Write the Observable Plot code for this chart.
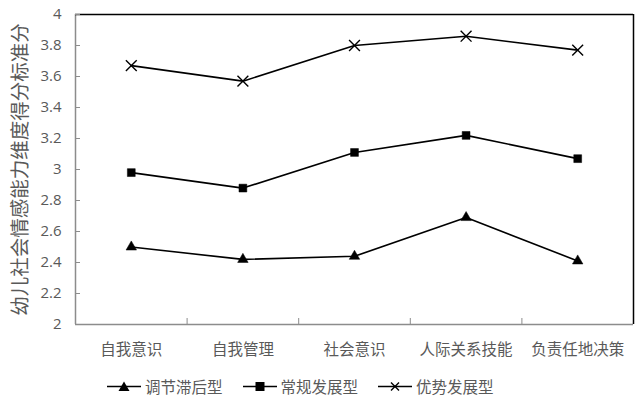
<!DOCTYPE html>
<html>
<head>
<meta charset="utf-8">
<script src="https://cdn.jsdelivr.net/npm/d3@7"></script>
<script src="https://cdn.jsdelivr.net/npm/@observablehq/plot@0.6"></script>
<style>
  html, body { margin: 0; padding: 0; background: #fff; }
  #chart { width: 636px; height: 399px; position: relative; font-family: "Noto Sans CJK SC", sans-serif; }
  .legend { position: absolute; left: 107px; top: 375px; display: flex; align-items: center; color: #595959; font-size: 15.5px; font-family: "Noto Sans CJK SC", sans-serif; }
  .legend .item { display: flex; align-items: center; margin-right: 20px; }
  .legend svg { margin-right: 4px; }
</style>
</head>
<body>
<div id="chart"></div>
<script>
const categories = ["自我意识", "自我管理", "社会意识", "人际关系技能", "负责任地决策"];
const seriesNames = ["调节滞后型", "常规发展型", "优势发展型"];
const lagging = [2.50, 2.42, 2.44, 2.69, 2.41];
const regular = [2.98, 2.88, 3.11, 3.22, 3.07];
const advantage = [3.67, 3.57, 3.80, 3.86, 3.77];
const yTicks = [2, 2.2, 2.4, 2.6, 2.8, 3, 3.2, 3.4, 3.6, 3.8, 4];
const yTitle = "幼儿社会情感能力维度得分标准分";

const seriesValues = [lagging, regular, advantage];
const symbols = ["triangle2", "square2", "times"];
const data = [];
seriesNames.forEach((s, si) => {
  categories.forEach((c, ci) => {
    data.push({series: s, idx: ci + 0.5, value: seriesValues[si][ci], cat: c});
  });
});

const gray = "#595959";
const plot = Plot.plot({
  width: 636,
  height: 368,
  marginLeft: 75,
  marginRight: 3,
  marginTop: 14,
  marginBottom: 44,
  style: {fontFamily: "'Noto Sans CJK SC', sans-serif", color: gray, background: "#fff", overflow: "visible"},
  x: {type: "linear", domain: [0, categories.length], axis: null},
  y: {domain: [2, 4], axis: null},
  marks: [
    Plot.ruleY([2], {stroke: "#8c8c8c", strokeWidth: 1.5}),
    Plot.ruleX([0], {stroke: "#8c8c8c", strokeWidth: 1.5}),
    Plot.ruleY([4], {stroke: "#000", strokeWidth: 1.5}),
    Plot.ruleX([categories.length], {stroke: "#000", strokeWidth: 1.5}),
    Plot.axisY({
      ticks: yTicks,
      tickSize: -5,
      tickPadding: 19,
      stroke: "#8c8c8c",
      tickFormat: d => String(d),
      fontSize: 15,
      fontFamily: "'Open Sans', sans-serif",
      fill: gray,
      label: null
    }),
    Plot.axisX({
      ticks: d3.range(1, categories.length),
      tickSize: -6,
      stroke: "#8c8c8c",
      tickFormat: () => "",
      label: null
    }),
    Plot.axisX({
      ticks: categories.map((c, i) => i + 0.5),
      tickSize: 0,
      tickPadding: 19,
      tickFormat: d => categories[Math.floor(d)],
      fontSize: 15.5,
      fill: gray,
      label: null
    }),
    Plot.text([yTitle], {
      frameAnchor: "left",
      dx: -55,
      rotate: -90,
      textAnchor: "middle",
      fontSize: 19.5,
      fill: gray,
      text: d => d
    }),
    Plot.line(data, {x: "idx", y: "value", z: "series", stroke: "#000", strokeWidth: 1.6}),
    ...seriesNames.map((s, si) => Plot.dot(data.filter(d => d.series === s), {
      x: "idx", y: "value",
      symbol: () => symbols[si],
      r: 5,
      fill: si === 2 ? "none" : "#000",
      stroke: "#000",
      strokeWidth: si === 2 ? 1.4 : 0.5
    }))
  ]
});
const chart = document.getElementById("chart");
chart.appendChild(plot);

// legend
const legend = document.createElement("div");
legend.className = "legend";
const legendSymbols = [
  '<path d="M17 2.5 L22.5 12 L11.5 12 Z" fill="#000"/>',
  '<rect x="12.5" y="3" width="9" height="9" fill="#000"/>',
  '<path d="M13 3.5 L21 11.5 M21 3.5 L13 11.5" stroke="#000" stroke-width="1.4"/>'
];
seriesNames.forEach((s, i) => {
  const item = document.createElement("div");
  item.className = "item";
  item.innerHTML = `<svg width="34" height="15" viewBox="0 0 34 15"><line x1="0" x2="34" y1="7.5" y2="7.5" stroke="#000" stroke-width="1.6"/>${legendSymbols[i]}</svg><span>${s}</span>`;
  legend.appendChild(item);
});
chart.appendChild(legend);
</script>
</body>
</html>
